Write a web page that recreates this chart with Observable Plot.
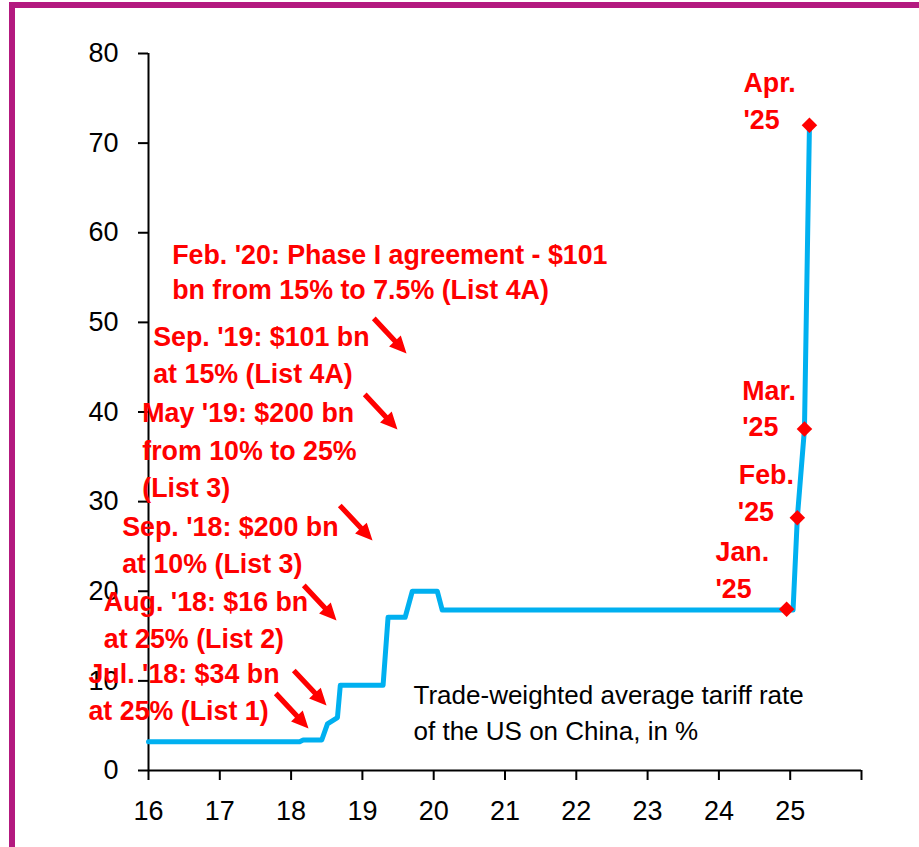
<!DOCTYPE html>
<html><head><meta charset="utf-8">
<script src="https://cdn.jsdelivr.net/npm/d3@7"></script>
<script src="https://cdn.jsdelivr.net/npm/@observablehq/plot@0.6"></script>
<style>
html,body{margin:0;padding:0;background:#fff;width:919px;height:847px;overflow:hidden;}
#frame{position:absolute;left:9px;top:2px;right:0;bottom:0;border-left:6px solid #B3197F;border-top:6px solid #B3197F;}
#chart{position:absolute;left:0;top:0;}
</style></head><body><div id="frame"></div><div id="chart"></div>
<script>
// Trade-weighted average US tariff rate on China (decimal year, %)
const years = [16.00, 18.12, 18.17, 18.43, 18.51, 18.65, 18.69, 19.29, 19.36, 19.60, 19.70, 20.05, 20.12, 25.04, 25.10, 25.20, 25.27];
const rates = [3.2, 3.2, 3.4, 3.4, 5.2, 5.9, 9.5, 9.5, 17.1, 17.1, 20.0, 20.0, 17.9, 17.9, 28.2, 38.1, 72.0];

// 2025 markers
const markerYears = [24.95, 25.10, 25.20, 25.27];
const markerRates = [18.0, 28.2, 38.1, 72.0];

// axis ticks
const xTicks = [16, 17, 18, 19, 20, 21, 22, 23, 24, 25, 26];
const xTickLabels = ["16", "17", "18", "19", "20", "21", "22", "23", "24", "25", ""];
const yTicks = [0, 10, 20, 30, 40, 50, 60, 70, 80];

// red annotation lines (anchor in data units: year, %)
const noteText = [
  "Feb. '20: Phase I agreement - $101", "bn from 15% to 7.5% (List 4A)",
  "Sep. '19: $101 bn", "at 15% (List 4A)",
  "May '19: $200 bn", "from 10% to 25%", "(List 3)",
  "Sep. '18: $200 bn", "at 10% (List 3)",
  "Aug. '18: $16 bn", "at 25% (List 2)",
  "Jul. '18: $34 bn", "at 25% (List 1)",
  "Apr.", "'25", "Mar.", "'25", "Feb.", "'25", "Jan.", "'25"
];
const noteX = [16.332, 16.332, 16.066, 16.066, 15.912, 15.912, 15.912, 15.631, 15.631, 15.373, 15.373, 15.158, 15.158,
  24.345, 24.345, 24.327, 24.327, 24.279, 24.265, 23.952, 23.952];
const noteY = [56.46, 52.66, 47.36, 43.21, 38.86, 34.67, 30.49, 26.22, 22.01, 17.77, 13.69, 9.74, 5.66,
  75.68, 71.6, 41.36, 37.27, 31.99, 27.82, 23.43, 19.27];

// arrow tips (year, %)
const arrowX = [19.619, 19.492, 19.142, 18.637, 18.497, 18.244];
const arrowY = [46.53, 38.05, 25.66, 16.74, 7.25, 4.69];

// caption
const captionText = ["Trade-weighted average tariff rate", "of the US on China, in %"];
const captionX = [19.717, 19.717];
const captionY = [7.44, 3.35];

const series = years.map((x, i) => ({x, y: rates[i]}));
const markers = markerYears.map((x, i) => ({x, y: markerRates[i]}));
const notes = noteText.map((t, i) => ({x: noteX[i], y: noteY[i], t}));
const arrows = arrowX.map((x, i) => ({x, y: arrowY[i]}));
const captions = captionText.map((t, i) => ({x: captionX[i], y: captionY[i], t}));

const arrowShape = {
  draw(ctx, l) {
    const w = 2.6, hw = 8, h = 17;
    ctx.moveTo(-w, 0);
    ctx.lineTo(-w, -l + h);
    ctx.lineTo(-hw, -l + h);
    ctx.lineTo(0, -l);
    ctx.lineTo(hw, -l + h);
    ctx.lineTo(w, -l + h);
    ctx.lineTo(w, 0);
    ctx.closePath();
  }
};

const font = "'Liberation Sans', Arial, sans-serif";
const chart = Plot.plot({
  width: 919, height: 847,
  marginLeft: 148, marginRight: 58, marginTop: 53, marginBottom: 77,
  style: {fontFamily: font, background: "transparent", overflow: "visible", color: "#000"},
  x: {domain: [16, 26], label: null},
  y: {domain: [0, 80], label: null},
  marks: [
    Plot.ruleX([16], {y1: 0, y2: 80, stroke: "#000", strokeWidth: 2}),
    Plot.ruleY([0], {x1: 16, x2: 26, stroke: "#000", strokeWidth: 2}),
    Plot.axisY(yTicks, {tickSize: 10, tickPadding: 20, fontSize: 27, strokeWidth: 2, tickFormat: d => String(d), label: null}),
    Plot.axisX(xTicks, {tickSize: 10, tickPadding: 20, fontSize: 27, strokeWidth: 2, tickFormat: d => xTickLabels[xTicks.indexOf(d)], label: null}),
    Plot.line(series, {x: "x", y: "y", stroke: "#00B0F0", strokeWidth: 5}),
    Plot.dot(markers, {x: "x", y: "y", symbol: "diamond2", r: 7, fill: "#FF0000", stroke: "none"}),
    Plot.vector(arrows, {x: "x", y: "y", rotate: 137, length: 48, anchor: "end", shape: arrowShape, fill: "#FF0000", stroke: "none"}),
    Plot.text(notes, {x: "x", y: "y", text: "t", textAnchor: "start", lineAnchor: "bottom", fill: "#FF0000", fontWeight: "bold", fontSize: 26.8}),
    Plot.text(captions, {x: "x", y: "y", text: "t", textAnchor: "start", lineAnchor: "bottom", fill: "#000", fontSize: 26})
  ]
});
document.getElementById("chart").appendChild(chart);
</script>
</body></html>
